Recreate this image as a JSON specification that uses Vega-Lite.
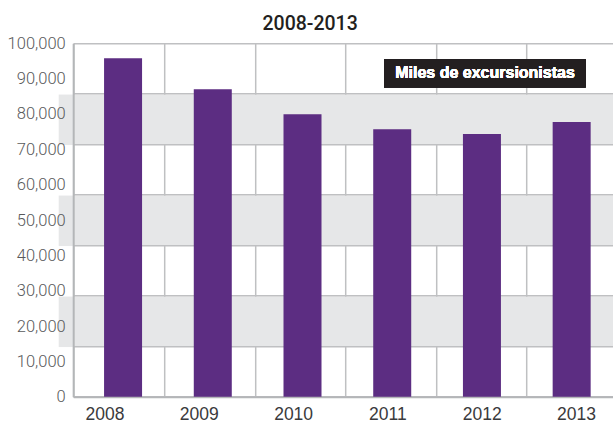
{
  "$schema": "https://vega.github.io/schema/vega-lite/v6.json",
  "width": 539.8,
  "height": 353.4,
  "autosize": {"type": "none"},
  "padding": {"left": 73.2, "top": 43.3, "right": 0, "bottom": 26.3},
  "background": "white",
  "title": {
    "text": "2008-2013",
    "anchor": "middle",
    "dx": -33,
    "dy": 26,
    "offset": 11.6,
    "baseline": "alphabetic",
    "font": "Roboto",
    "fontSize": 19.5,
    "fontWeight": 500,
    "color": "#231f20"
  },
  "config": {"view": {"stroke": null}},
  "data": {
    "values": [
      {"year": 2008, "excursionistas": 95800},
      {"year": 2009, "excursionistas": 87000},
      {"year": 2010, "excursionistas": 79900},
      {"year": 2011, "excursionistas": 75700},
      {"year": 2012, "excursionistas": 74300},
      {"year": 2013, "excursionistas": 77700}
    ]
  },
  "layer": [
    {
      "mark": {"type": "point", "opacity": 0},
      "encoding": {
        "x": {"field": "year", "type": "quantitative", "scale": {"domain": [2007.5, 2013.405]}, "axis": null},
        "y": {
          "field": "excursionistas", "type": "quantitative",
          "scale": {"domain": [0, 100000], "nice": false, "zero": true},
          "axis": {
            "orient": "left",
            "values": [21428.57, 50000, 78571.43],
            "grid": true, "gridColor": "#e6e7e8", "gridWidth": 50.5, "gridOpacity": 1,
            "ticks": true, "tickSize": 15, "tickWidth": 50.5, "tickColor": "#e6e7e8", "tickOpacity": 1,
            "labels": false, "domain": false, "title": null
          }
        }
      }
    },
    {
      "mark": {"type": "point", "opacity": 0},
      "encoding": {
        "x": {
          "field": "year", "type": "quantitative",
          "scale": {"domain": [2007.4967, 2013.4534], "nice": false, "zero": false},
          "axis": {
            "orient": "bottom",
            "values": [2007.5, 2008.5, 2009.5, 2010.5, 2011.5, 2012.5],
            "grid": true, "gridColor": "#bfc0c2", "gridWidth": 1.5, "gridOpacity": 1,
            "ticks": false, "labels": false, "domain": false, "title": null
          }
        },
        "y": {
          "field": "excursionistas", "type": "quantitative",
          "scale": {"domain": [0, 100000], "nice": false},
          "axis": {
            "orient": "left",
            "values": [0, 14285.71, 28571.43, 42857.14, 57142.86, 71428.57, 85714.29, 100000],
            "grid": true, "gridColor": "#bfc0c2", "gridWidth": 1.5, "gridOpacity": 1,
            "ticks": false, "labels": false, "domain": false, "title": null
          }
        }
      }
    },
    {
      "mark": {"type": "bar", "width": 38, "color": "#5c2d82"},
      "encoding": {
        "x": {
          "field": "year", "type": "quantitative",
          "scale": {"domain": [2007.5, 2013.405], "nice": false, "zero": false},
          "axis": {
            "orient": "bottom", "labels": false, "ticks": false, "grid": false,
            "domain": true, "domainColor": "#b4b6b8", "domainWidth": 2, "title": null
          }
        },
        "y": {
          "field": "excursionistas", "type": "quantitative",
          "scale": {"domain": [0, 100000], "nice": false},
          "axis": {
            "orient": "left",
            "values": [0, 10000, 20000, 30000, 40000, 50000, 60000, 70000, 80000, 90000, 100000],
            "format": ",d",
            "grid": false, "ticks": false, "tickSize": 0,
            "domain": true, "domainColor": "#b4b6b8", "domainWidth": 2,
            "labelFont": "Roboto", "labelFontSize": 16.5, "labelFontWeight": 300, "labelColor": "#58595b",
            "labelPadding": 8, "title": null
          }
        }
      }
    },
    {
      "mark": {"type": "point", "opacity": 0},
      "encoding": {
        "x": {
          "field": "year", "type": "quantitative",
          "scale": {"domain": [2007.668, 2013.392], "nice": false, "zero": false},
          "axis": {
            "orient": "bottom", "values": [2008, 2009, 2010, 2011, 2012, 2013], "format": "d",
            "grid": false, "ticks": false, "tickSize": 0, "domain": false,
            "labelFont": "Liberation Sans", "labelFontSize": 17.5, "labelColor": "#3a3a3c",
            "labelPadding": 9, "title": null
          }
        },
        "y": {"field": "excursionistas", "type": "quantitative", "scale": {"domain": [0, 100000], "nice": false}, "axis": null}
      }
    },
    {
      "mark": {"type": "rect", "color": "#231f20"},
      "encoding": {
        "x": {"datum": 2010.9, "type": "quantitative", "scale": {"domain": [2007.5, 2013.405], "nice": false, "zero": false}, "axis": null},
        "x2": {"datum": 2013.106},
        "y": {"datum": 95480, "type": "quantitative", "scale": {"domain": [0, 100000], "nice": false}, "axis": null},
        "y2": {"datum": 87486}
      }
    },
    {
      "mark": {"type": "text", "color": "white", "font": "Liberation Sans", "fontWeight": "bold", "fontSize": 16, "align": "center", "baseline": "middle"},
      "encoding": {
        "x": {"datum": 2012.005, "type": "quantitative", "scale": {"domain": [2007.5, 2013.405], "nice": false, "zero": false}, "axis": null},
        "y": {"datum": 91540, "type": "quantitative", "scale": {"domain": [0, 100000], "nice": false}, "axis": null},
        "text": {"value": "Miles de excursionistas"}
      }
    }
  ],
  "resolve": {"scale": {"x": "independent"}, "axis": {"x": "independent", "y": "independent"}}
}
